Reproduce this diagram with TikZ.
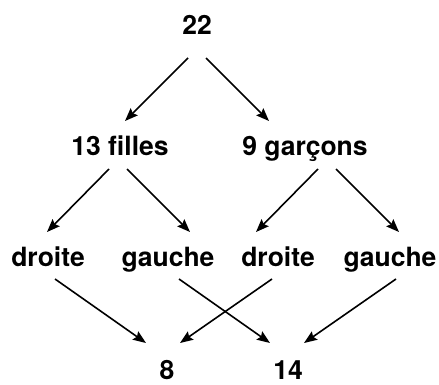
\documentclass[tikz,border=0pt]{standalone}
\usepackage{fontspec}
\setmainfont{TeX Gyre Heros}
\usepackage{tikz}
\usetikzlibrary{arrows.meta, positioning}
\tikzstyle{arrow} = [line width=1.6pt,->,>={Stealth[length=13pt,width=10pt,inset=2pt]}]
\tikzstyle{count} = [anchor=base, inner sep=0pt, font=\fontsize{26.5}{30}\selectfont\bfseries]

\begin{document}
\begin{tikzpicture}[x=1pt, y=-1pt]
    \useasboundingbox (0,0) rectangle (439,385);

    % Counts
    \node[count] (total) at (197,35) {22};

    \node[count] (filles) at (120,155) {13 filles};
    \node[count] (garcons) at (305,155) {9 garçons};

    \node[count] (droiteF) at (48,266) {droite};
    \node[count] (gaucheF) at (168,266) {gauche};
    \node[count] (droiteG) at (278,266) {droite};
    \node[count] (gaucheG) at (390,266) {gauche};

    \node[count] (huit) at (167,379) {8};
    \node[count] (quatorze) at (288,379) {14};

    % Splits
    \draw[arrow] ([shift={(-9,23)}]total.base) -- ([shift={(5,-34)}]filles.base);
    \draw[arrow] ([shift={(9,23)}]total.base) -- ([shift={(-36,-34)}]garcons.base);

    \draw[arrow] ([shift={(-11,14)}]filles.base) -- ([shift={(-1,-34)}]droiteF.base);
    \draw[arrow] ([shift={(7,14)}]filles.base) -- ([shift={(22,-34)}]gaucheF.base);
    \draw[arrow] ([shift={(13,14)}]garcons.base) -- ([shift={(-22,-34)}]droiteG.base);
    \draw[arrow] ([shift={(31,14)}]garcons.base) -- ([shift={(9,-34)}]gaucheG.base);

    % Totals
    \draw[arrow] ([shift={(7,13)}]droiteF.base) -- ([shift={(-21,-36)}]huit.base);
    \draw[arrow] ([shift={(11,13)}]gaucheF.base) -- ([shift={(-18,-36)}]quatorze.base);
    \draw[arrow] ([shift={(-6,13)}]droiteG.base) -- ([shift={(13,-36)}]huit.base);
    \draw[arrow] ([shift={(6,13)}]gaucheG.base) -- ([shift={(16,-36)}]quatorze.base);

\end{tikzpicture}
\end{document}
